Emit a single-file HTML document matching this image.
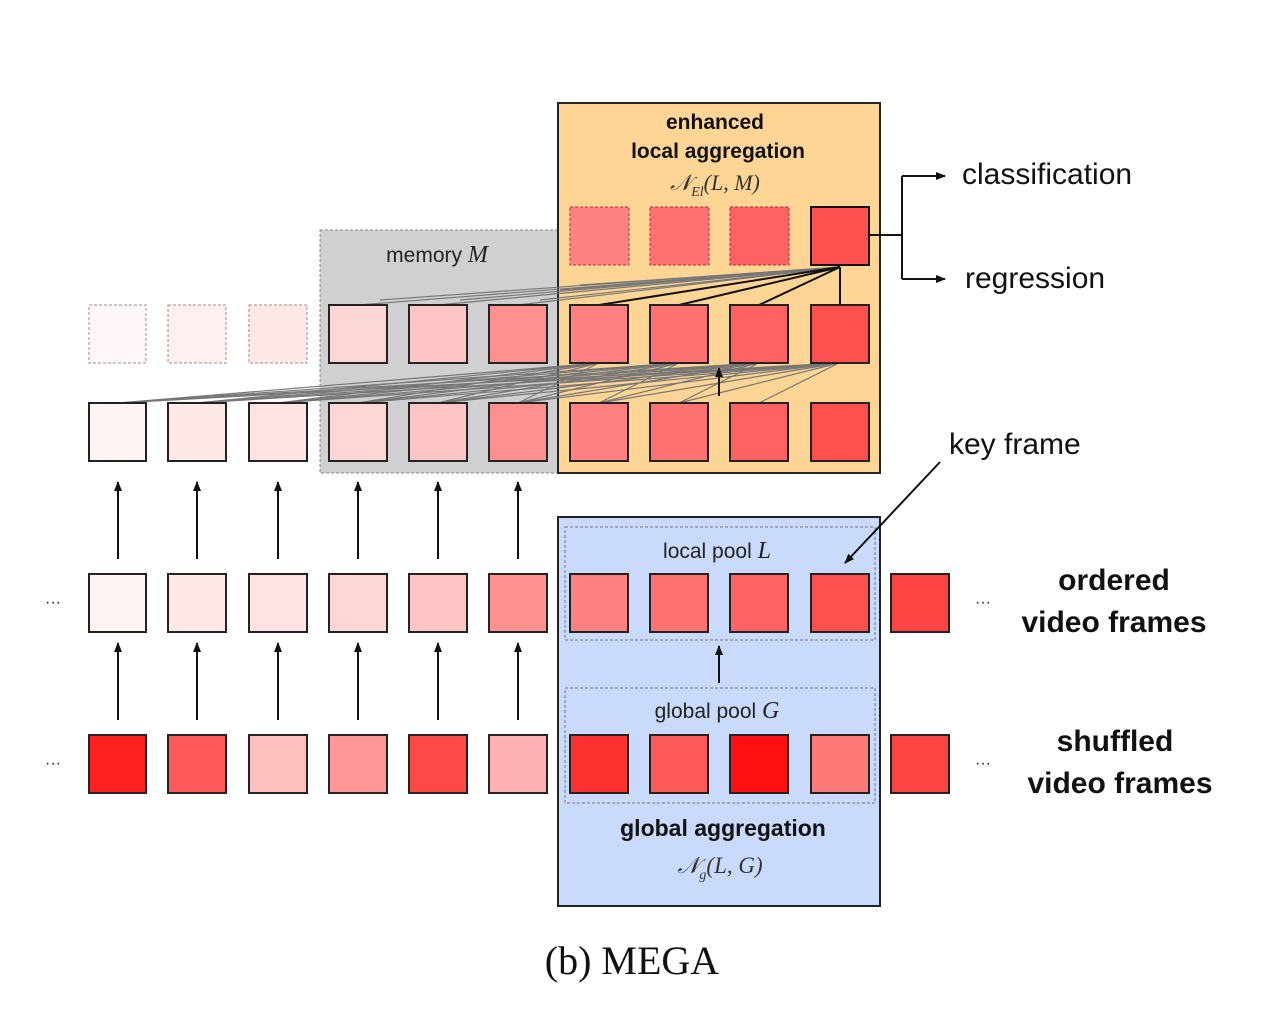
<!DOCTYPE html>
<html><head><meta charset="utf-8"><style>
html,body{margin:0;padding:0;background:#fff;}
svg{display:block;}
text{font-family:"Liberation Sans",sans-serif;}
.s{font-family:"Liberation Serif",serif;font-style:italic;}
</style></head><body>
<svg width="1280" height="1034" viewBox="0 0 1280 1034" xmlns="http://www.w3.org/2000/svg">
<defs><marker id="a" markerWidth="10" markerHeight="10" refX="9" refY="5" orient="auto" markerUnits="userSpaceOnUse"><path d="M0,1 L10,5 L0,9 z" fill="#111"/></marker></defs>
<!-- panels -->
<rect x="320" y="230" width="238" height="243" fill="#d0d0d0" stroke="#888" stroke-dasharray="3,2"/>
<rect x="558" y="103" width="322" height="370" fill="#fed594" stroke="#222" stroke-width="2"/>
<rect x="558" y="517" width="322" height="389" fill="#c9dafc" stroke="#222" stroke-width="2"/>
<rect x="565" y="527" width="310" height="113" fill="none" stroke="#777" stroke-dasharray="3,2"/>
<rect x="565" y="688" width="310" height="115" fill="none" stroke="#777" stroke-dasharray="3,2"/>
<!-- labels -->
<text x="715" y="129" font-size="21" font-weight="bold" text-anchor="middle" fill="#111">enhanced</text>
<text x="718" y="158" font-size="21" font-weight="bold" text-anchor="middle" fill="#111">local aggregation</text>
<text x="715" y="190" font-size="22" class="s" text-anchor="middle" fill="#333">𝒩<tspan font-size="14" dy="6">El</tspan><tspan dy="-6">(L, M)</tspan></text>
<text x="437" y="262" font-size="21" text-anchor="middle" fill="#222">memory <tspan class="s" font-size="24">M</tspan></text>
<text x="717" y="558" font-size="21" text-anchor="middle" fill="#222">local pool <tspan class="s" font-size="24">L</tspan></text>
<text x="717" y="718" font-size="21" text-anchor="middle" fill="#222">global pool <tspan class="s" font-size="24">G</tspan></text>
<text x="723" y="836" font-size="23" font-weight="bold" text-anchor="middle" fill="#111">global aggregation</text>
<text x="720" y="873" font-size="23" class="s" text-anchor="middle" fill="#333">𝒩<tspan font-size="14" dy="6">g</tspan><tspan dy="-6">(L, G)</tspan></text>
<text x="962" y="184" font-size="30" fill="#111">classification</text>
<text x="965" y="288" font-size="30" fill="#111">regression</text>
<text x="949" y="454" font-size="30" fill="#111">key frame</text>
<text x="1114" y="590" font-size="30" font-weight="bold" text-anchor="middle" fill="#111">ordered</text>
<text x="1114" y="632" font-size="30" font-weight="bold" text-anchor="middle" fill="#111">video frames</text>
<text x="1115" y="751" font-size="30" font-weight="bold" text-anchor="middle" fill="#111">shuffled</text>
<text x="1120" y="793" font-size="30" font-weight="bold" text-anchor="middle" fill="#111">video frames</text>
<text x="632" y="974" font-size="40" font-family="Liberation Serif" text-anchor="middle" fill="#111" style="font-family:'Liberation Serif',serif">(b)  MEGA</text>
<text x="53" y="607" font-size="16" text-anchor="middle" fill="#222">···</text>
<text x="53" y="768" font-size="16" text-anchor="middle" fill="#222">···</text>
<text x="983" y="607" font-size="16" text-anchor="middle" fill="#222">···</text>
<text x="983" y="768" font-size="16" text-anchor="middle" fill="#222">···</text>
<!-- connectors gray -->
<g stroke="#777" stroke-width="1.2" fill="none">
<line x1="118" y1="403" x2="599" y2="363"/><line x1="118" y1="403" x2="679" y2="363"/><line x1="118" y1="403" x2="759" y2="363"/><line x1="118" y1="403" x2="839" y2="363"/>
<line x1="197" y1="403" x2="599" y2="363"/><line x1="197" y1="403" x2="679" y2="363"/><line x1="197" y1="403" x2="759" y2="363"/><line x1="197" y1="403" x2="839" y2="363"/>
<line x1="278" y1="403" x2="599" y2="363"/><line x1="278" y1="403" x2="679" y2="363"/><line x1="278" y1="403" x2="759" y2="363"/><line x1="278" y1="403" x2="839" y2="363"/>
<line x1="358" y1="403" x2="599" y2="363"/><line x1="358" y1="403" x2="679" y2="363"/><line x1="358" y1="403" x2="759" y2="363"/><line x1="358" y1="403" x2="839" y2="363"/>
<line x1="438" y1="403" x2="599" y2="363"/><line x1="438" y1="403" x2="679" y2="363"/><line x1="438" y1="403" x2="759" y2="363"/><line x1="438" y1="403" x2="839" y2="363"/>
<line x1="518" y1="403" x2="599" y2="363"/><line x1="518" y1="403" x2="679" y2="363"/><line x1="518" y1="403" x2="759" y2="363"/><line x1="518" y1="403" x2="839" y2="363"/>
<line x1="599" y1="403" x2="679" y2="363"/><line x1="599" y1="403" x2="759" y2="363"/><line x1="599" y1="403" x2="839" y2="363"/>
<line x1="679" y1="403" x2="759" y2="363"/><line x1="679" y1="403" x2="839" y2="363"/>
<line x1="759" y1="403" x2="839" y2="363"/>
<line x1="840" y1="267" x2="358" y2="305"/><line x1="840" y1="267" x2="438" y2="305"/><line x1="840" y1="267" x2="518" y2="305"/>
<line x1="840" y1="267" x2="380" y2="300"/><line x1="840" y1="267" x2="460" y2="300"/><line x1="840" y1="267" x2="540" y2="300"/>
<line x1="840" y1="267" x2="560" y2="290"/><line x1="840" y1="267" x2="580" y2="285"/>
</g>
<g stroke="#111" stroke-width="2" fill="none">
<line x1="840" y1="267" x2="599" y2="305"/><line x1="840" y1="267" x2="679" y2="305"/><line x1="840" y1="267" x2="759" y2="305"/><line x1="840" y1="267" x2="840" y2="305"/>
<line x1="719" y1="396" x2="719" y2="368" marker-end="url(#a)"/>
<path d="M870,235 H902 M902,176 V279 M902,176 H945" marker-end="url(#a)"/>
<line x1="902" y1="279" x2="945" y2="279" marker-end="url(#a)"/>
<line x1="940" y1="462" x2="845" y2="563" marker-end="url(#a)"/>
<line x1="719" y1="683" x2="719" y2="646" marker-end="url(#a)"/>
<line x1="118" y1="559" x2="118" y2="482" marker-end="url(#a)"/><line x1="197" y1="559" x2="197" y2="482" marker-end="url(#a)"/><line x1="278" y1="559" x2="278" y2="482" marker-end="url(#a)"/><line x1="358" y1="559" x2="358" y2="482" marker-end="url(#a)"/><line x1="438" y1="559" x2="438" y2="482" marker-end="url(#a)"/><line x1="518" y1="559" x2="518" y2="482" marker-end="url(#a)"/>
<line x1="118" y1="720" x2="118" y2="643" marker-end="url(#a)"/><line x1="197" y1="720" x2="197" y2="643" marker-end="url(#a)"/><line x1="278" y1="720" x2="278" y2="643" marker-end="url(#a)"/><line x1="358" y1="720" x2="358" y2="643" marker-end="url(#a)"/><line x1="438" y1="720" x2="438" y2="643" marker-end="url(#a)"/><line x1="518" y1="720" x2="518" y2="643" marker-end="url(#a)"/>
</g>
<!-- top row (dashed) -->
<g stroke="#a33" stroke-width="1" stroke-dasharray="3,2">
<rect x="570" y="207" width="59" height="58" fill="#ff8282"/>
<rect x="650" y="207" width="59" height="58" fill="#ff7070"/>
<rect x="730" y="207" width="59" height="58" fill="#ff6262"/>
</g>
<rect x="811" y="207" width="58" height="58" fill="#ff5050" stroke="#111" stroke-width="2"/>
<!-- middle row -->
<g stroke="#a88" stroke-width="1" stroke-dasharray="3,2">
<rect x="89" y="305" width="57" height="58" fill="#fff7f7"/>
<rect x="168" y="305" width="58" height="58" fill="#fff0f0"/>
<rect x="249" y="305" width="58" height="58" fill="#ffe8e8"/>
</g>
<g stroke="#222" stroke-width="2">
<rect x="329" y="305" width="58" height="58" fill="#ffd6d6"/>
<rect x="409" y="305" width="58" height="58" fill="#ffc4c4"/>
<rect x="489" y="305" width="58" height="58" fill="#ff9090"/>
<rect x="570" y="305" width="58" height="58" fill="#ff8080"/>
<rect x="650" y="305" width="58" height="58" fill="#ff7272"/>
<rect x="730" y="305" width="58" height="58" fill="#ff6262"/>
<rect x="811" y="305" width="58" height="58" fill="#ff5050"/>
<!-- bottom of top section -->
<rect x="89" y="403" width="57" height="58" fill="#fff5f5"/>
<rect x="168" y="403" width="58" height="58" fill="#ffe8e8"/>
<rect x="249" y="403" width="58" height="58" fill="#ffe2e2"/>
<rect x="329" y="403" width="58" height="58" fill="#ffd6d6"/>
<rect x="409" y="403" width="58" height="58" fill="#ffc4c4"/>
<rect x="489" y="403" width="58" height="58" fill="#ff9090"/>
<rect x="570" y="403" width="58" height="58" fill="#ff8080"/>
<rect x="650" y="403" width="58" height="58" fill="#ff7272"/>
<rect x="730" y="403" width="58" height="58" fill="#ff6262"/>
<rect x="811" y="403" width="58" height="58" fill="#ff5050"/>
<!-- ordered -->
<rect x="89" y="574" width="57" height="58" fill="#fff5f5"/>
<rect x="168" y="574" width="58" height="58" fill="#ffe8e8"/>
<rect x="249" y="574" width="58" height="58" fill="#ffe2e2"/>
<rect x="329" y="574" width="58" height="58" fill="#ffd6d6"/>
<rect x="409" y="574" width="58" height="58" fill="#ffc4c4"/>
<rect x="489" y="574" width="58" height="58" fill="#ff9090"/>
<rect x="570" y="574" width="58" height="58" fill="#ff8080"/>
<rect x="650" y="574" width="58" height="58" fill="#ff7272"/>
<rect x="730" y="574" width="58" height="58" fill="#ff6262"/>
<rect x="811" y="574" width="58" height="58" fill="#ff5050"/>
<rect x="891" y="574" width="58" height="58" fill="#ff4444"/>
<!-- shuffled -->
<rect x="89" y="735" width="57" height="58" fill="#ff2020"/>
<rect x="168" y="735" width="58" height="58" fill="#ff5a5a"/>
<rect x="249" y="735" width="58" height="58" fill="#ffc0c0"/>
<rect x="329" y="735" width="58" height="58" fill="#ff9898"/>
<rect x="409" y="735" width="58" height="58" fill="#ff4848"/>
<rect x="489" y="735" width="58" height="58" fill="#ffb0b0"/>
<rect x="570" y="735" width="58" height="58" fill="#ff3030"/>
<rect x="650" y="735" width="58" height="58" fill="#ff5a5a"/>
<rect x="730" y="735" width="58" height="58" fill="#ff1010"/>
<rect x="811" y="735" width="58" height="58" fill="#ff7878"/>
<rect x="891" y="735" width="58" height="58" fill="#ff4444"/>
</g>
</svg>
</body></html>
